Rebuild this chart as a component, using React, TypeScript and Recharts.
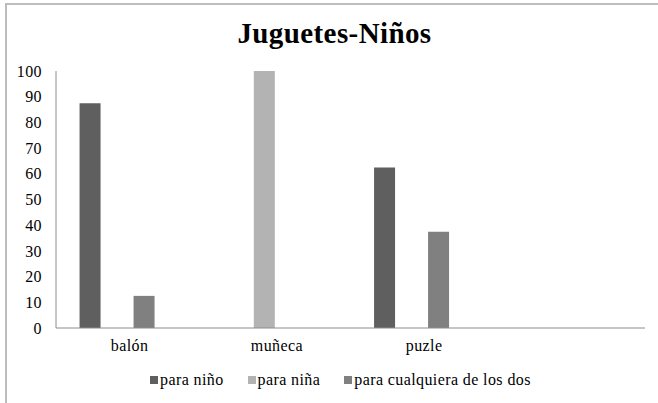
import { BarChart, Bar, XAxis, YAxis } from "recharts";

// toy categories; the last slot is an empty category Excel left on the axis
const juguetes = ["balón", "muñeca", "puzle", ""];
const paraNino = [87.5, 0, 62.5, null];
const paraNina = [0, 100, 0, null];
const paraCualquiera = [12.5, 0, 37.5, null];
// blank fourth series, keeps each group shifted left like the source sheet
const serieVacia = [null, null, null, null];
const yTicks = [0, 10, 20, 30, 40, 50, 60, 70, 80, 90, 100];

const seriesLegend = [
  { name: "para niño", color: "#5f5f5f" },
  { name: "para niña", color: "#b3b3b3" },
  { name: "para cualquiera de los dos", color: "#808080" },
];

const data = juguetes.map((cat, i) => ({
  cat,
  nino: paraNino[i],
  nina: paraNina[i],
  cualquiera: paraCualquiera[i],
  vacia: serieVacia[i],
}));

const FONT = "'Liberation Serif', 'Times New Roman', serif";
const tickStyle = { fill: "#000", fontSize: 16, fontFamily: FONT, letterSpacing: 0.4 };

export default function App() {
  return (
    <div style={{ position: "absolute", left: 0, top: 0, width: 658, height: 403, overflow: "hidden", background: "#fff", fontFamily: FONT }}>
      {/* frame of the chart area, only top and left edges show */}
      <div style={{ position: "absolute", left: 5, top: 3, width: 700, height: 500, border: "2px solid #bdbdbd", boxSizing: "border-box" }} />

      <div style={{ position: "absolute", left: 0, width: 669, top: 19, lineHeight: "29px", fontSize: 29, fontWeight: "bold", letterSpacing: 0.4, textAlign: "center", color: "#000" }}>
        Juguetes-Niños
      </div>

      <div style={{ position: "absolute", left: 0, top: 0 }}>
        <BarChart
          width={658}
          height={403}
          data={data}
          margin={{ top: 71, right: 13, bottom: 45, left: 6 }}
          barCategoryGap="16%"
          barGap={6}
        >
          <XAxis
            dataKey="cat"
            height={30}
            axisLine={{ stroke: "#8c8c8c" }}
            tickLine={false}
            tickSize={0}
            tickMargin={12}
            interval={0}
            tick={tickStyle}
          />
          <YAxis
            width={50}
            domain={[0, 100]}
            ticks={yTicks}
            axisLine={{ stroke: "#8c8c8c" }}
            tickLine={false}
            tickSize={0}
            tickMargin={14}
            tick={tickStyle}
          />
          <Bar dataKey="nino" fill="#5f5f5f" isAnimationActive={false} />
          <Bar dataKey="nina" fill="#b3b3b3" isAnimationActive={false} />
          <Bar dataKey="cualquiera" fill="#808080" isAnimationActive={false} />
          <Bar dataKey="vacia" fill="none" isAnimationActive={false} />
        </BarChart>
      </div>

      <div style={{ position: "absolute", left: 150, top: 371, display: "flex", gap: 24, fontSize: 16, letterSpacing: 0.4, lineHeight: "18px", color: "#000" }}>
        {seriesLegend.map((s) => (
          <div key={s.name} style={{ display: "flex", alignItems: "center" }}>
            <span style={{ display: "inline-block", width: 8, height: 8, background: s.color, marginRight: 2 }} />
            <span>{s.name}</span>
          </div>
        ))}
      </div>
    </div>
  );
}
